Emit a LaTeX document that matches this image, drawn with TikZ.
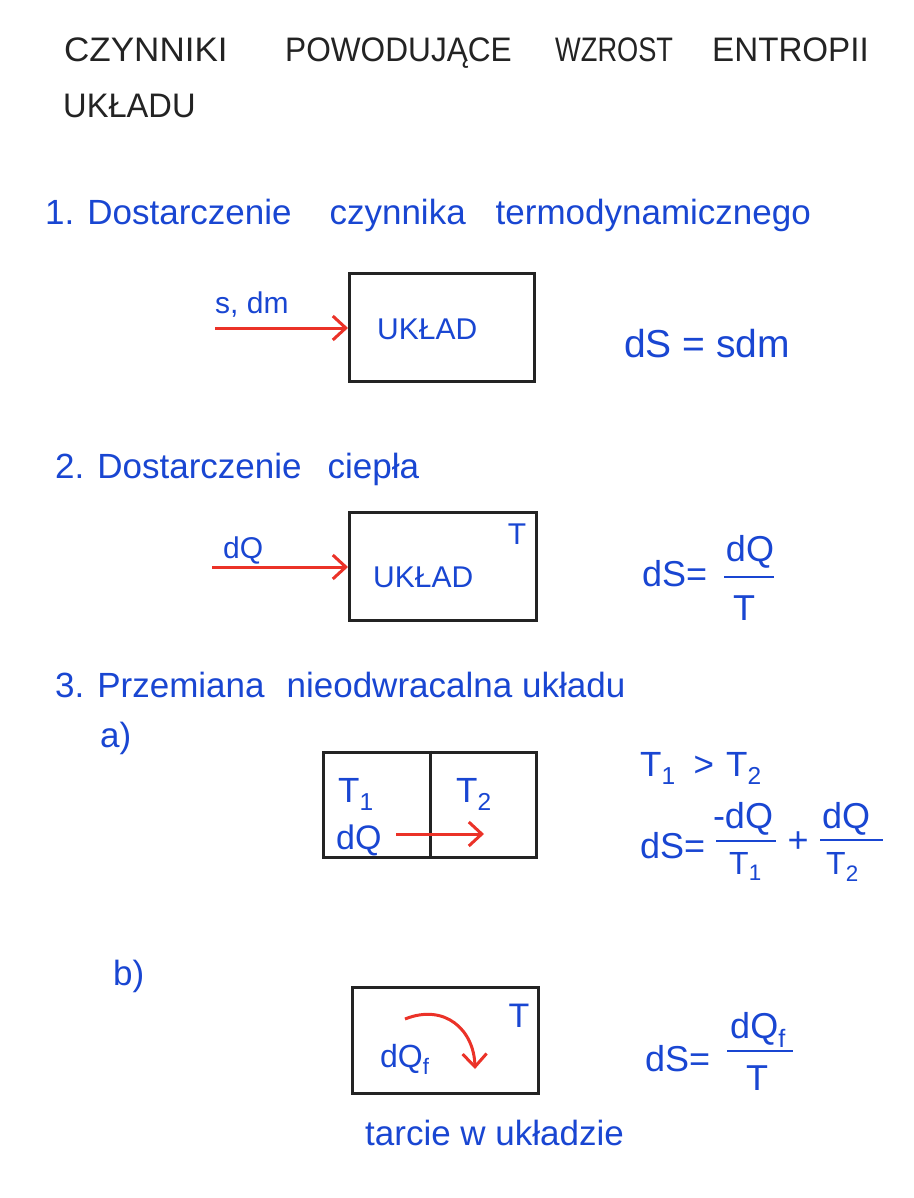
\documentclass[tikz,border=0pt]{standalone}
\usepackage{fontspec}
\usepackage{graphicx}
\setmainfont{Liberation Sans}
\usetikzlibrary{arrows.meta}
\definecolor{ink}{RGB}{35,35,35}
\definecolor{pen}{RGB}{25,70,210}
\definecolor{redpen}{RGB}{235,50,40}
\begin{document}
\begin{tikzpicture}[x=1pt,y=-1pt,
  box/.style={draw=ink,line width=3pt},
  ttl/.style={text=ink,font=\fontsize{34}{40}\selectfont,anchor=base west,inner sep=0pt},
  hd/.style={text=pen,font=\fontsize{35}{40}\selectfont,anchor=base west,inner sep=0pt},
  lbl/.style={text=pen,font=\fontsize{30}{34}\selectfont,inner sep=0pt},
  eq/.style={text=pen,font=\fontsize{36}{42}\selectfont,inner sep=0pt},
  flow/.style={draw=redpen,line width=3pt,-{Straight Barb[length=13pt,width=24pt,line width=3pt]}},
  fracline/.style={draw=pen,line width=2.6pt}]
\useasboundingbox[fill=white] (0,0) rectangle (913,1198);
% title
\node[ttl] (t1) at (64,62) {\scalebox{1.03}[1]{CZYNNIKI}};
\node[ttl] (t2) at (285,62) {\scalebox{0.93}[1]{POWODUJĄCE}};
\node[ttl] (t3) at (555,62) {\scalebox{0.80}[1]{WZROST}};
\node[ttl] (t4) at (712,62) {\scalebox{0.975}[1]{ENTROPII}};
\node[ttl] (t5) at (63,118) {\scalebox{0.96}[1]{UKŁADU}};
% headings
\node[hd] (h1) at (45,225) {1. Dostarczenie\hspace{38pt}czynnika\hspace{30pt}termodynamicznego};
\node[hd] (h2) at (55,478) {2. Dostarczenie\hspace{26pt}ciepła};
\node[hd] (h3) at (55,697) {3. Przemiana\hspace{22pt}nieodwracalna\hspace{10pt}układu};
\node[hd] (ha) at (100,747) {a)};
\node[hd] (hb) at (113,985) {b)};
\node[hd] (tar) at (365,1145) {tarcie w układzie};
% 1
\node[box,minimum width=185pt,minimum height=108pt] (b1) at (442,327) {};
\node[lbl,anchor=base west] (u1) at (377,339) {UKŁAD};
\coordinate (s1) at (215,328);
\draw[flow] (s1) -- (b1.west |- s1);
\node[lbl,anchor=base west] (sdm) at (215,313) {s, dm};
\node[eq,anchor=base west,font=\fontsize{39}{44}\selectfont] (e1) at (624,357) {dS = sdm};
% 2
\node[box,minimum width=187pt,minimum height=108pt] (b2) at (443,566) {};
\node[lbl,anchor=base west] (u2) at (373,587) {UKŁAD};
\node[lbl] (T2) at (517,534) {T};
\coordinate (s2) at (212,567);
\draw[flow] (s2) -- (b2.west |- s2);
\node[lbl,anchor=base west] (dq2) at (223,558) {dQ};
\node[eq,anchor=base west] (e2) at (642,586) {dS=};
\node[eq,anchor=base] (n2) at (750,561) {dQ};
\node[eq,anchor=base] (d2) at (744,620) {T};
\draw[fracline] (724,577) -- (774,577);
% 3a
\node[box,minimum width=213pt,minimum height=105pt] (b3) at (430,804.5) {};
\draw[box] (b3.north) -- (b3.south);
\node[lbl,anchor=base west,font=\fontsize{35}{40}\selectfont] (T1a) at (338,802) {T\textsubscript{1}};
\node[lbl,anchor=base west,font=\fontsize{35}{40}\selectfont] (T2a) at (456,802) {T\textsubscript{2}};
\node[lbl,anchor=base west,font=\fontsize{34}{40}\selectfont] (dq3) at (336,849) {dQ};
\coordinate (a3s) at (396,834);
\coordinate (a3e) at (484,834);
\draw[flow] (a3s) -- (a3e);
\node[eq,anchor=base west,font=\fontsize{35}{40}\selectfont] (g1) at (640,776) {T\textsubscript{1}\hspace{18pt}>\hspace{12pt}T\textsubscript{2}};
\node[eq,anchor=base west] (e3) at (640,858) {dS=};
\node[eq,anchor=base] (n3a) at (743,828) {-dQ};
\draw[fracline] (716,841) -- (776,841);
\node[eq,anchor=base west,font=\fontsize{32}{38}\selectfont] (d3a) at (729,874) {T\textsubscript{1}};
\node[eq] (plus) at (798,842) {+};
\node[eq,anchor=base] (n3b) at (846,828) {dQ};
\draw[fracline] (820,840) -- (883,840);
\node[eq,anchor=base west,font=\fontsize{32}{38}\selectfont] (d3b) at (826,874) {T\textsubscript{2}};
% 3b
\node[box,minimum width=186pt,minimum height=106pt] (b4) at (445.5,1040.5) {};
\node[lbl,font=\fontsize{34}{40}\selectfont] (T4) at (519,1016) {T};
\node[lbl,anchor=base west,font=\fontsize{32}{38}\selectfont] (dqf) at (380,1067) {dQ\textsubscript{f}};
\coordinate (c1) at (405,1019);
\coordinate (c2) at (475,1069);
\draw[flow] (c1) .. controls (445,1003) and (474,1030) .. (c2);
\node[eq,anchor=base west] (e4) at (645,1071) {dS=};
\node[eq,anchor=base] (n4) at (758,1038) {dQ\textsubscript{f}};
\draw[fracline] (727,1051) -- (793,1051);
\node[eq,anchor=base] (d4) at (757,1090) {T};
\end{tikzpicture}
\end{document}
